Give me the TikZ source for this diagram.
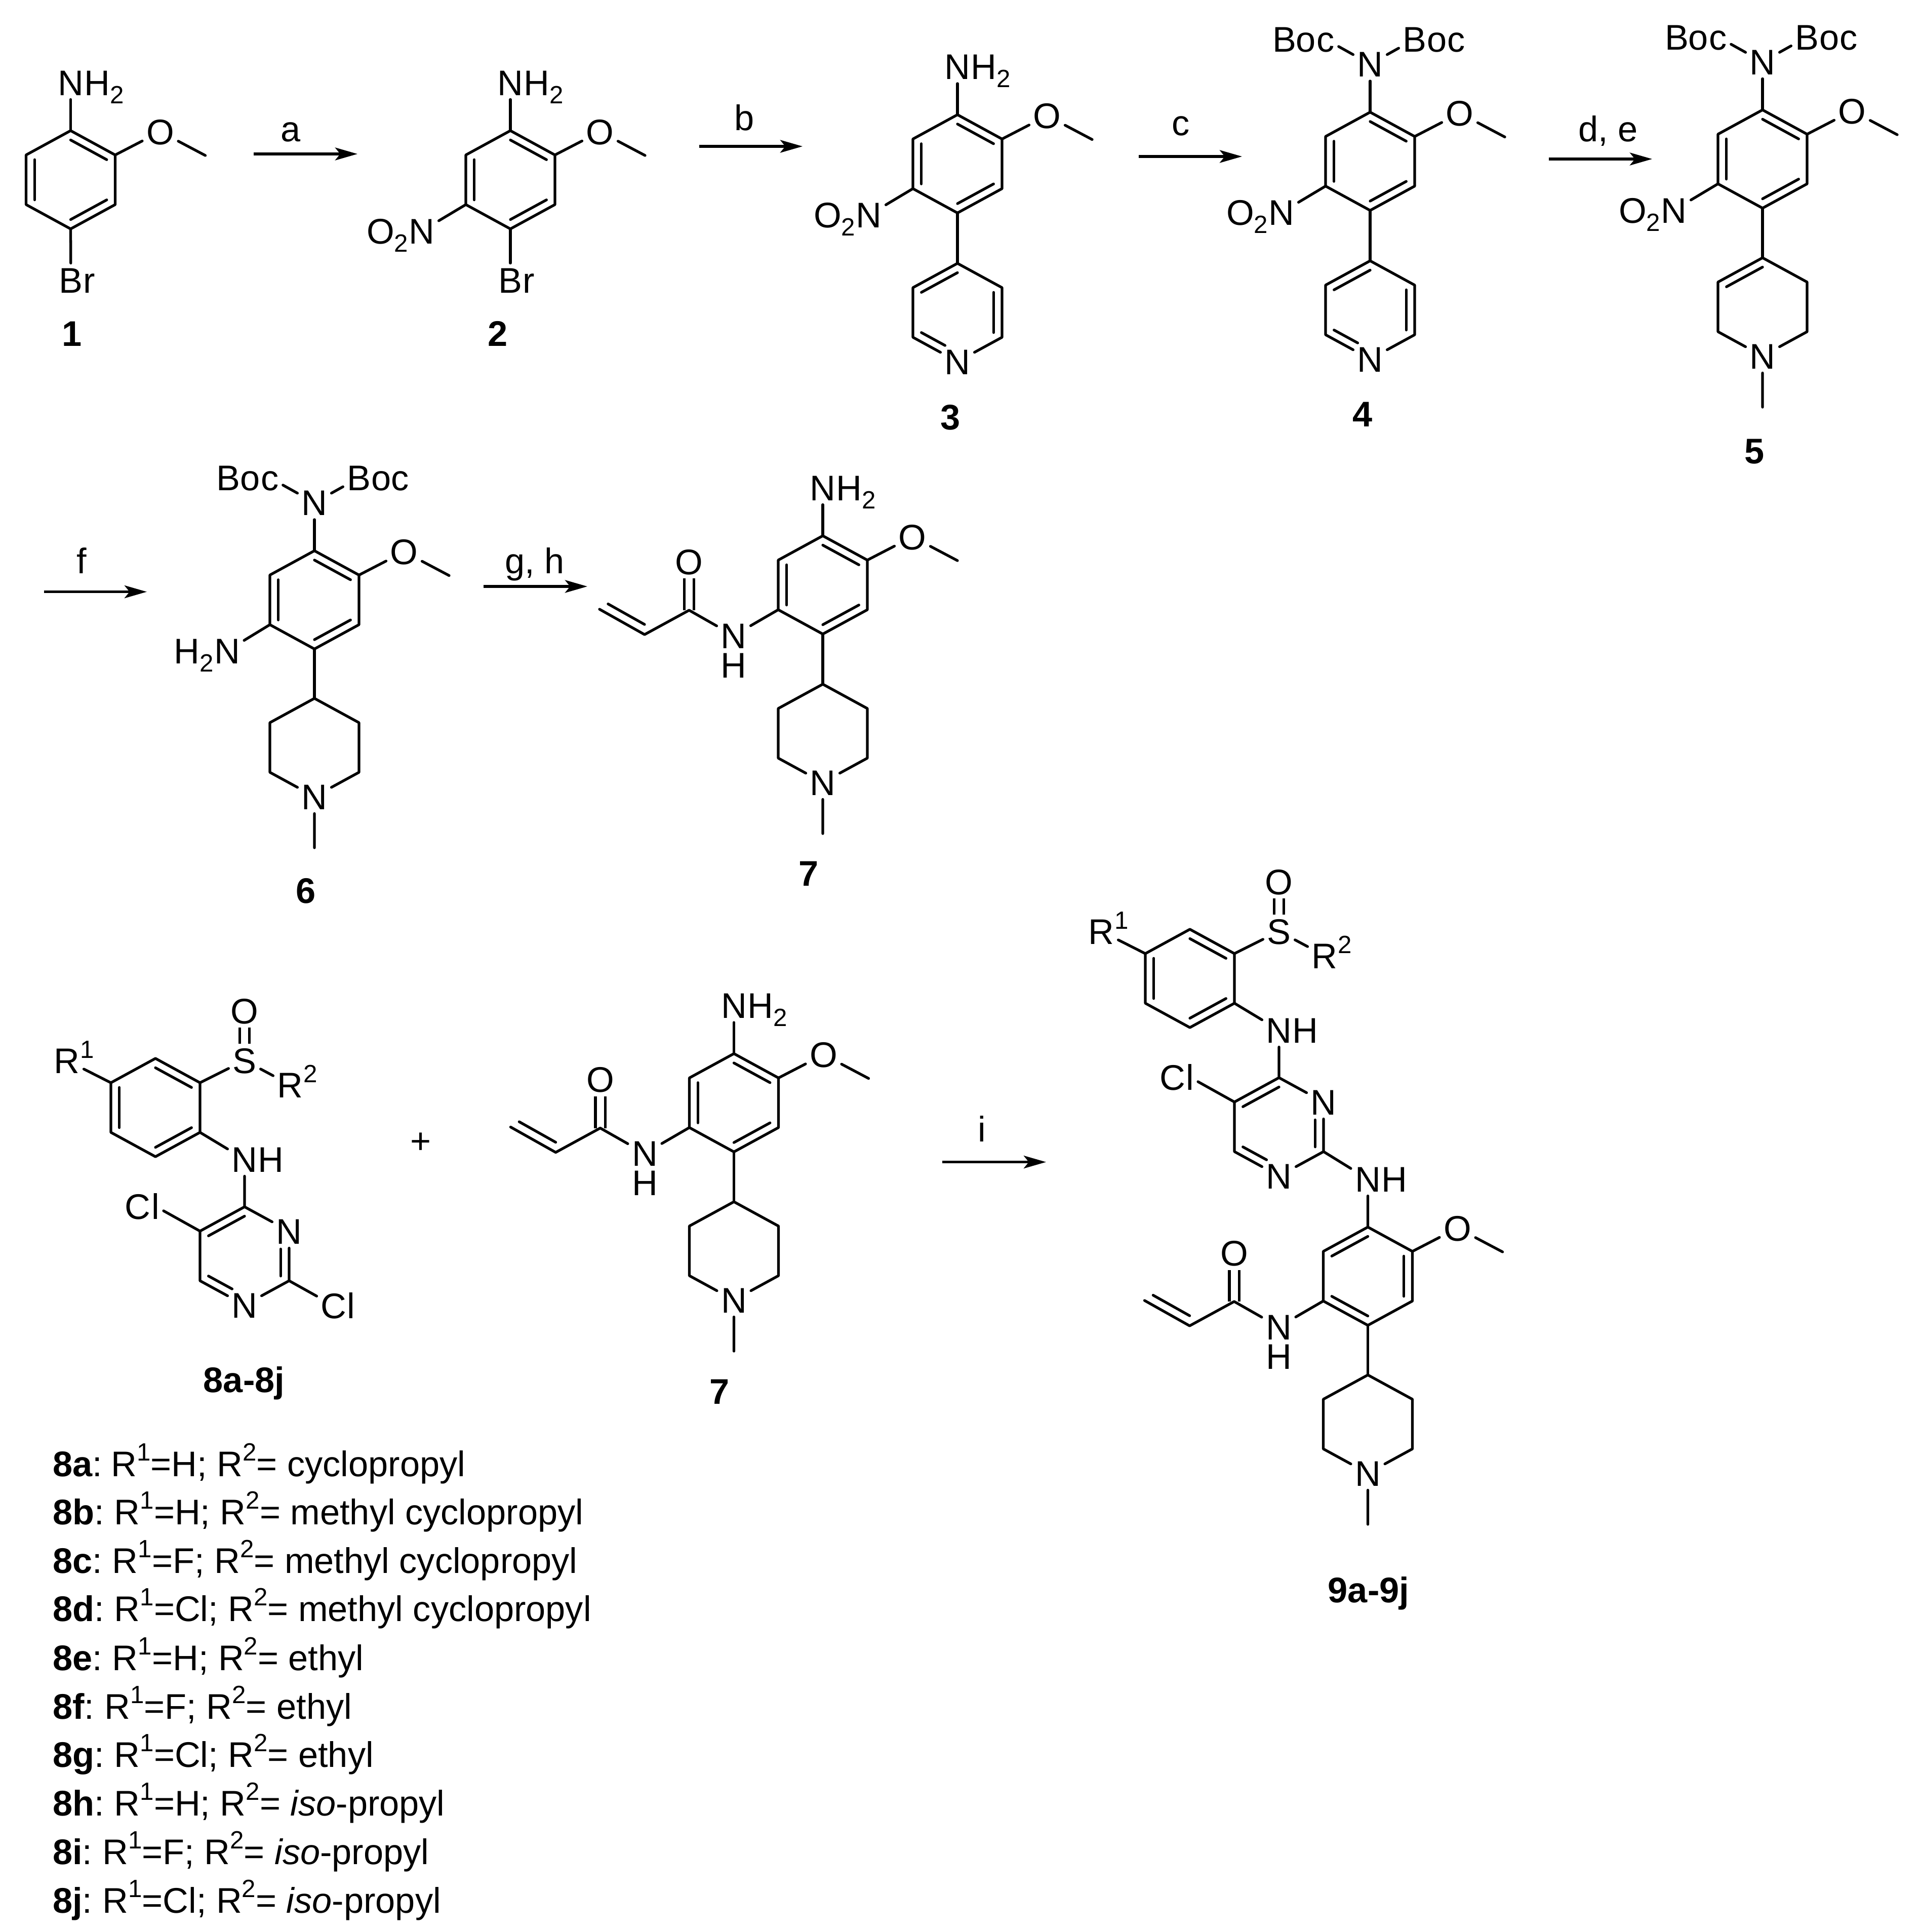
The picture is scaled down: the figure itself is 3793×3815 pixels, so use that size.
\documentclass[tikz,border=0pt]{standalone}
\usepackage{fontspec}
\setmainfont{Liberation Sans}
\usetikzlibrary{calc,arrows.meta}

\newcommand{\sbs}[1]{\raisebox{-.23em}{\scalebox{.7}{#1}}}
\newcommand{\sps}[1]{\raisebox{.43em}{\scalebox{.7}{#1}}}

\tikzset{
  bond/.style={line width=1.5pt, line cap=round, line join=round},
  dblo/.style={line width=1.5pt, double, double distance=.14cm},
  rxn/.style={line width=1.5pt, -{Stealth[length=.44cm,width=.25cm,inset=.1cm]}},
  atom/.style={font=\fontsize{20}{22}\selectfont, inner sep=.075cm, text height=.505cm, text depth=0pt},
  bare/.style={atom, inner sep=0pt},
  tailr/.style={font=\fontsize{20}{22}\selectfont, inner sep=0pt, anchor=base west, xshift=-.075cm},
  taill/.style={font=\fontsize{20}{22}\selectfont, inner sep=0pt, anchor=base east, xshift=.075cm},
  lab/.style={font=\fontsize{20}{22}\selectfont, inner sep=0pt, anchor=base},
  cpd/.style={font=\fontsize{20}{22}\selectfont\bfseries, inner sep=0pt, anchor=base},
  listline/.style={font=\fontsize{20}{22}\selectfont, inner sep=0pt, anchor=base west},
  toN/.style={shorten >=.28cm},
  fromN/.style={shorten <=.26cm}
}

% ring corners: 1 top, then clockwise
\newcommand{\ringat}[2]{
  \coordinate (#1) at (#2);
  \coordinate (#11) at ([shift={(0,-97)}]#1);
  \coordinate (#12) at ([shift={(88,-49)}]#1);
  \coordinate (#13) at ([shift={(88,49)}]#1);
  \coordinate (#14) at ([shift={(0,97)}]#1);
  \coordinate (#15) at ([shift={(-88,49)}]#1);
  \coordinate (#16) at ([shift={(-88,-49)}]#1);
}
\newcommand{\dbond}[4][]{\draw[bond,#1] ($(#2)!.19!(#4)$) -- ($(#3)!.19!(#4)$);}
\newcommand{\hexa}[1]{\draw[bond] (#11) -- (#12) -- (#13) -- (#14) -- (#15) -- (#16) -- cycle;}
\newcommand{\benz}[2]{
  \ringat{#1}{#2}
  \hexa{#1}
  \dbond{#11}{#12}{#1}
  \dbond{#13}{#14}{#1}
  \dbond{#15}{#16}{#1}
}
% atom letter at the corner, rest of the text beside it
\newcommand{\atomr}[4]{
  \node[atom] (#1) at (#2) {#3};
  \node[tailr] (#1t) at (#1.base east) {#4};
}
\newcommand{\atoml}[4]{
  \node[atom] (#1) at (#2) {#3};
  \node[taill] (#1t) at (#1.base west) {#4};
}
\newcommand{\ome}[1]{
  \node[atom] (#1o) at ([shift={(177,-95)}]#1) {O};
  \coordinate (#1me) at ([shift={(266,-48)}]#1);
  \draw[bond] (#12) -- (#1o) -- (#1me);
}
\newcommand{\nhtwo}[1]{
  \atomr{#1n}{[shift={(0,-192)}]#1}{N}{H\sbs{2}}
  \draw[bond] (#11) -- (#1n);
}
\newcommand{\onitro}[1]{
  \atoml{#1x}{[shift={(-175,101)}]#1}{N}{O\sbs{2}}
  \draw[bond] (#15) -- (#1x);
}
\newcommand{\bocs}[1]{
  \node[atom] (#1n) at ([shift={(0,-192)}]#1) {N};
  \atoml{#1bl}{[shift={(-88,-241)}]#1}{c}{Bo}
  \atomr{#1br}{[shift={(88,-241)}]#1}{B}{oc}
  \draw[bond] (#1bl) -- (#1n) -- (#1br);
  \draw[bond] (#11) -- (#1n);
}
\newcommand{\pyrid}[1]{
  \ringat{#1}{#1t}
  \node[atom] (#1n) at (#14) {N};
  \draw[bond] (#1n) -- (#13) -- (#12) -- (#11) -- (#16) -- (#15) -- (#1n);
  \dbond{#16}{#11}{#1}
  \dbond{#12}{#13}{#1}
  \dbond[toN]{#15}{#14}{#1}
}
\newcommand{\pipmethyl}[2]{
  \ringat{#1}{#2}
  \node[atom] (#1n) at (#14) {N};
  \coordinate (#1me) at ([shift={(0,198)}]#1);
  \draw[bond] (#1n) -- (#13) -- (#12) -- (#11) -- (#16) -- (#15) -- (#1n) -- (#1me);
}
\newcommand{\amide}[1]{
  \node[atom] (#1n) at ([shift={(-176,100)}]#1) {N};
  \node[bare] (#1h) at ([shift={(-176,158)}]#1) {H};
  \node[atom] (#1co) at ([shift={(-264,-46)}]#1) {O};
  \coordinate (#1c) at ([shift={(-264,50)}]#1);
  \coordinate (#1v) at ([shift={(-352,98)}]#1);
  \coordinate (#1w) at ([shift={(-441,48)}]#1);
  \coordinate (#1z) at ([shift={(-352,-7)}]#1);
  \draw[dblo] (#1co) -- (#1c);
  \draw[bond] (#15) -- (#1n) -- (#1c) -- (#1v) -- (#1w);
  \dbond{#1v}{#1w}{#1z}
}
% aryl sulfoxide on a chloropyrimidine
\newcommand{\arylpyr}[2]{
  \benz{#1}{#2}
  \atomr{#1ra}{[shift={(-175,-93)}]#1}{R}{\sps{1}}
  \node[atom] (#1s) at ([shift={(176,-93)}]#1) {S};
  \node[atom] (#1so) at ([shift={(176,-191)}]#1) {O};
  \atomr{#1rb}{[shift={(266,-45)}]#1}{R}{\sps{2}}
  \atomr{#1nh}{[shift={(176,102)}]#1}{N}{H}
  \draw[dblo] (#1so) -- (#1s);
  \draw[bond] (#16) -- (#1ra);
  \draw[bond] (#12) -- (#1s) -- (#1rb);
  \draw[bond] (#13) -- (#1nh);
  \ringat{#1p}{[shift={(176,293)}]#1}
  \node[atom] (#1pa) at (#1p2) {N};
  \node[atom] (#1pb) at (#1p4) {N};
  \atoml{#1cl}{[shift={(-88,-49)}]#1p6}{l}{C}
  \draw[bond] (#1nh) -- (#1p1) -- (#1pa) -- (#1p3) -- (#1pb) -- (#1p5) -- (#1p6) -- (#1p1);
  \draw[bond] (#1p6) -- (#1cl);
  \dbond{#1p6}{#1p1}{#1p}
  \dbond[fromN]{#1p2}{#1p3}{#1p}
  \dbond[toN]{#1p5}{#1p4}{#1p}
}

\begin{document}
\begin{tikzpicture}[x=.01cm,y=-.01cm]
\useasboundingbox (0,0) rectangle (3793,3815);

% 1
\benz{a}{139.5,355}
\nhtwo{a}
\ome{a}
\atomr{abr}{140,553}{B}{r}
\draw[bond] (a4) -- (abr);
\node[cpd] (cpda) at (142,683) {1};

% 2
\benz{b}{1008,355}
\nhtwo{b}
\ome{b}
\onitro{b}
\atomr{bbr}{1008,553}{B}{r}
\draw[bond] (b4) -- (bbr);
\node[cpd] (cpdb) at (983,683) {2};

% 3
\benz{c}{1891,323.5}
\nhtwo{c}
\ome{c}
\onitro{c}
\coordinate (dt) at (1891,617);
\pyrid{d}
\draw[bond] (c4) -- (d1);
\node[cpd] (cpdc) at (1877,848) {3};

% 4
\benz{e}{2706,318.5}
\bocs{e}
\ome{e}
\onitro{e}
\coordinate (ft) at (2706,612);
\pyrid{f}
\draw[bond] (e4) -- (f1);
\node[cpd] (cpde) at (2691,842) {4};

% 5
\benz{g}{3481,314}
\bocs{g}
\ome{g}
\onitro{g}
\pipmethyl{h}{3481,606}
\dbond{h6}{h1}{h}
\draw[bond] (g4) -- (h1);
\node[cpd] (cpdg) at (3465,915) {5};

% 6
\benz{i}{621,1184.5}
\bocs{i}
\ome{i}
\atoml{ix}{448.5,1285}{N}{H\sbs{2}}
\draw[bond] (i5) -- (ix);
\pipmethyl{j}{621,1476}
\draw[bond] (i4) -- (j1);
\node[cpd] (cpdi) at (604,1783) {6};

% 7
\benz{k}{1625,1155}
\nhtwo{k}
\ome{k}
\amide{k}
\pipmethyl{l}{1625,1448}
\draw[bond] (k4) -- (l1);
\node[cpd] (cpdk) at (1597,1749) {7};

% 8
\arylpyr{m}{307,2187}
\atomr{mclb}{[shift={(88,49)}]mp3}{C}{l}
\draw[bond] (mp3) -- (mclb);
\node[cpd] (cpdm) at (482,2749) {8a-8j};
\node[lab] (plus) at (831,2277) {+};

% 7 again
\benz{o}{1449.5,2177.5}
\nhtwo{o}
\ome{o}
\amide{o}
\pipmethyl{q}{1449.5,2470}
\draw[bond] (o4) -- (q1);
\node[cpd] (cpdo) at (1421,2772) {7};

% 9
\arylpyr{r}{2350,1932}
\ringat{t}{2701.5,2520}
\hexa{t}
\dbond{t6}{t1}{t}
\dbond{t2}{t3}{t}
\dbond{t5}{t4}{t}
\atomr{tnh}{2701.5,2328}{N}{H}
\draw[bond] (rp3) -- (tnh) -- (t1);
\ome{t}
\amide{t}
\pipmethyl{u}{2701.5,2812}
\draw[bond] (t4) -- (u1);
\node[cpd] (cpdt) at (2703,3164) {9a-9j};

% arrows
\coordinate (aas) at (501,304);   \coordinate (aae) at (706,304);
\coordinate (abs) at (1381,289);  \coordinate (abe) at (1585,289);
\coordinate (acs) at (2249,309);  \coordinate (ace) at (2453,309);
\coordinate (ads) at (3059,314);  \coordinate (ade) at (3263,314);
\coordinate (afs) at (87,1168.6); \coordinate (afe) at (290,1168.6);
\coordinate (ags) at (955,1158);  \coordinate (age) at (1160,1158);
\coordinate (ais) at (1861,2294.6); \coordinate (aie) at (2066,2294.6);
\draw[rxn] (aas) -- (aae);
\draw[rxn] (abs) -- (abe);
\draw[rxn] (acs) -- (ace);
\draw[rxn] (ads) -- (ade);
\draw[rxn] (afs) -- (afe);
\draw[rxn] (ags) -- (age);
\draw[rxn] (ais) -- (aie);
\node[lab] (laba) at (574.5,279.5) {a};
\node[lab] (labb) at (1470,257.5) {b};
\node[lab] (labc) at (2332,268) {c};
\node[lab] (labd) at (3176,279) {d, e};
\node[lab] (labf) at (161.4,1132.5) {f};
\node[lab] (labg) at (1056,1132.5) {g, h};
\node[lab] (labi) at (1939.5,2254) {i};

% list
\node[listline] (l8a) at (103.5,2915) {\textbf{8a}:\hspace{.17cm}R\sps{1}=H; R\sps{2}= cyclopropyl};
\node[listline] (l8b) at (103.5,3010) {\textbf{8b}:\hspace{.2cm}R\sps{1}=H; R\sps{2}= methyl cyclopropyl};
\node[listline] (l8c) at (103.5,3106) {\textbf{8c}:\hspace{.2cm}R\sps{1}=F; R\sps{2}= methyl cyclopropyl};
\node[listline] (l8d) at (103.5,3201) {\textbf{8d}:\hspace{.2cm}R\sps{1}=Cl; R\sps{2}= methyl cyclopropyl};
\node[listline] (l8e) at (103.5,3298) {\textbf{8e}:\hspace{.2cm}R\sps{1}=H; R\sps{2}= ethyl};
\node[listline] (l8f) at (103.5,3394) {\textbf{8f}:\hspace{.2cm}R\sps{1}=F; R\sps{2}= ethyl};
\node[listline] (l8g) at (103.5,3489) {\textbf{8g}:\hspace{.2cm}R\sps{1}=Cl; R\sps{2}= ethyl};
\node[listline] (l8h) at (103.5,3585) {\textbf{8h}:\hspace{.2cm}R\sps{1}=H; R\sps{2}= \textit{iso}-propyl};
\node[listline] (l8i) at (103.5,3681) {\textbf{8i}:\hspace{.2cm}R\sps{1}=F; R\sps{2}= \textit{iso}-propyl};
\node[listline] (l8j) at (103.5,3777) {\textbf{8j}:\hspace{.2cm}R\sps{1}=Cl; R\sps{2}= \textit{iso}-propyl};
\end{tikzpicture}
\end{document}
